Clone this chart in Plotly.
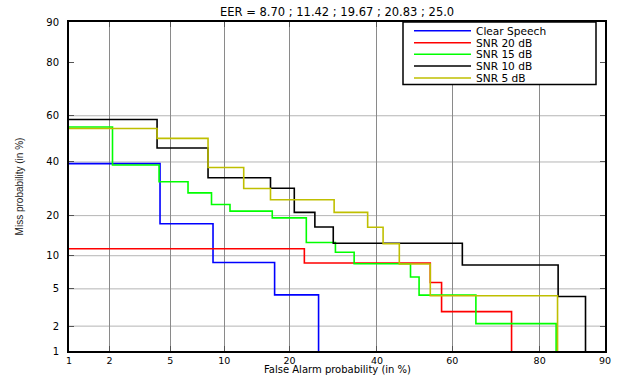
import plotly.graph_objects as go
from statistics import NormalDist

nd = NormalDist()


def probit(pct):
    return nd.inv_cdf(pct / 100.0)


# ---------------- data ----------------
tick_pct = [1, 2, 5, 10, 20, 40, 60, 80, 90]
tick_labels = ["1", "2", "5", "10", "20", "40", "60", "80", "90"]
ygrid_pct = [2, 5, 10, 20, 40, 60]

series_names = ["Clear Speech", "SNR 20 dB", "SNR 15 dB", "SNR 10 dB", "SNR 5 dB"]
eer_values = ["8.70", "11.42", "19.67", "20.83", "25.0"]

# DET operating points (false alarm %, miss %), drawn as steps
clear_fa = [0.5, 4.33, 8.74, 17.3, 25.9]
clear_miss = [39.3, 17.6, 8.77, 4.36, 0.5]

snr20_fa = [0.5, 22.9, 54.2, 57.2, 74.3]
snr20_miss = [11.4, 8.68, 5.77, 2.91, 0.5]

snr15_fa = [0.5, 2.1, 4.27, 6.36, 8.58, 10.7, 16.9, 23.3, 29.7, 34.2, 48.9, 51.2, 66.0, 82.96]
snr15_miss = [55.2, 38.7, 31.9, 27.7, 23.6, 21.4, 19.3, 12.8, 10.7, 8.55, 6.49, 4.33, 2.14, 0.5]

snr10_fa = [0.5, 4.15, 8.22, 16.6, 20.9, 25.1, 29.2, 62.6, 83.3, 87.5]
snr10_miss = [58.4, 46.0, 33.5, 29.4, 21.0, 16.7, 12.6, 8.33, 4.19, 0.5]

snr5_fa = [0.5, 4.15, 8.22, 12.5, 16.6, 29.4, 37.6, 41.6, 45.9, 54.2, 83.2]
snr5_miss = [54.5, 50.2, 37.7, 29.3, 25.2, 21.0, 16.6, 12.5, 8.5, 4.26, 0.5]

series_fa = [clear_fa, snr20_fa, snr15_fa, snr10_fa, snr5_fa]
series_miss = [clear_miss, snr20_miss, snr15_miss, snr10_miss, snr5_miss]
colors = ["#0000ff", "#ff0000", "#00ff00", "#000000", "#bfbf00"]

# ---------------- layout geometry ----------------
W, H = 621, 376
ML, MR, MT, MB = 69, 16, 22, 25
PW = W - ML - MR
PH = H - MT - MB
FONT = "DejaVu Sans, Verdana, sans-serif"
NARROW = "Liberation Sans Narrow, Liberation Sans, Arial, sans-serif"


def px_x(px):
    return (px - ML) / PW


def px_y(py):
    return (H - MB - py) / PH


fig = go.Figure()
for fa, miss, name, col in zip(series_fa, series_miss, series_names, colors):
    fig.add_trace(go.Scatter(
        x=[probit(v) for v in fa],
        y=[probit(v) for v in miss],
        mode="lines",
        name=name,
        line=dict(color=col, width=1.6, shape="hv"),
        showlegend=False,
        hoverinfo="skip",
    ))

axis_common = dict(
    tickvals=[probit(v) for v in tick_pct],
    ticktext=tick_labels,
    range=[probit(1), probit(90)],
    showline=True,
    linecolor="black",
    linewidth=2,
    mirror="allticks",
    ticks="inside",
    ticklen=5,
    tickcolor="#555555",
    zeroline=False,
    automargin=False,
)

fig.update_xaxes(
    showgrid=True,
    gridcolor="#8a8a8a",
    gridwidth=1,
    ticklabelstandoff=0,
    tickfont=dict(family=FONT, size=9.5, color="black"),
    **axis_common,
)
fig.update_yaxes(
    showgrid=False,
    ticklabelstandoff=6,
    tickfont=dict(family=FONT, size=10, color="black"),
    title=dict(text="Miss probability (in %)",
               font=dict(family=NARROW, size=10, color="#222222"),
               standoff=21),
    **axis_common,
)

shapes = []
# horizontal grid lines (no line at 80 in the reference)
for g in ygrid_pct:
    shapes.append(dict(type="line", xref="paper", yref="y", x0=0, x1=1,
                       y0=probit(g), y1=probit(g),
                       line=dict(color="#b5b5b5", width=1), layer="below"))

# ---------------- manual legend ----------------
shapes.append(dict(type="rect", xref="paper", yref="paper",
                   x0=px_x(403), x1=px_x(596), y0=px_y(84.5), y1=px_y(22),
                   fillcolor="white", line=dict(color="black", width=1.5), layer="above"))
annotations = []
row_py = [30.7, 42.7, 54.2, 65.9, 78.1]
for name, col, py in zip(series_names, colors, row_py):
    shapes.append(dict(type="line", xref="paper", yref="paper",
                       x0=px_x(414), x1=px_x(471), y0=px_y(py), y1=px_y(py),
                       line=dict(color=col, width=1.5), layer="above"))
    annotations.append(dict(xref="paper", yref="paper", x=px_x(475), y=px_y(py),
                            text=name, showarrow=False, xanchor="left", yanchor="middle",
                            borderpad=0,
                            font=dict(family=FONT, size=10.6, color="black")))

# chart title
annotations.append(dict(xref="paper", yref="paper", x=0.5, y=px_y(12),
                        text="EER = " + " ; ".join(eer_values), showarrow=False,
                        xanchor="center", yanchor="middle",
                        font=dict(family=FONT, size=11.5, color="black")))
# x-axis title
annotations.append(dict(xref="paper", yref="paper", x=0.5, y=px_y(375.5),
                        text="False Alarm probability (in %)", showarrow=False,
                        xanchor="center", yanchor="bottom", borderpad=0,
                        font=dict(family=FONT, size=10, color="black")))

fig.update_layout(
    width=W, height=H,
    margin=dict(l=ML, r=MR, t=MT, b=MB),
    paper_bgcolor="white",
    plot_bgcolor="white",
    shapes=shapes,
    annotations=annotations,
)

fig.write_html(
    "out.html",
    config={"displayModeBar": False, "staticPlot": True},
    post_script="document.body.style.margin='0';document.body.style.overflow='hidden';",
)
